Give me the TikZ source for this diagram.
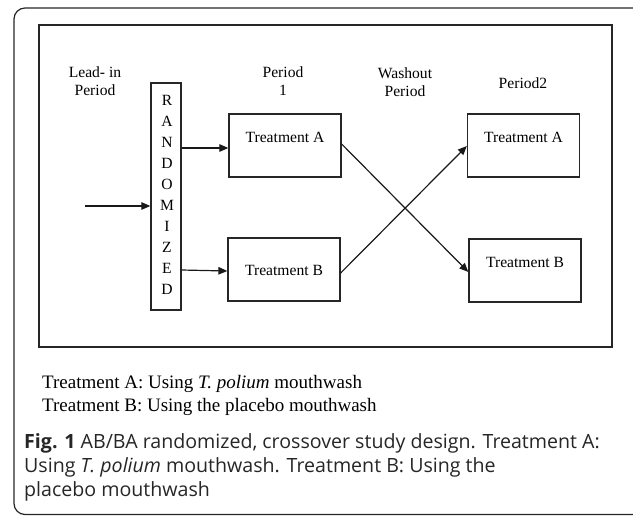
\documentclass[tikz,border=0pt]{standalone}
\usepackage{fontspec}
\setmainfont{Liberation Serif}
\newfontfamily\capfont{Open Sans}
\usetikzlibrary{arrows.meta,calc}
\tikzset{
  box/.style={draw=black!85, line width=1.3pt, minimum width=112pt, minimum height=63pt, inner sep=0pt},
  lbl/.style={font=\fontsize{15.6}{18.5}\selectfont, align=center, inner sep=0pt},
  conn/.style={line width=1.2pt, draw=black!90, -{Triangle[length=9pt,width=7.5pt]}},
  legend/.style={font=\fontsize{19}{23}\selectfont, anchor=base west, inner sep=0pt},
  captxt/.style={font=\capfont\fontsize{19.6}{24}\selectfont, anchor=base west, inner sep=0pt, text=black!85}
}
\begin{document}
\begin{tikzpicture}[x=1pt,y=-1pt]
\useasboundingbox (0,0) rectangle (633,515);
\begin{scope}
\clip (0,0) rectangle (633,515);
\draw[line width=1.2pt, draw=black!85, rounded corners=11pt] (14,8) rectangle (650,514.5);
\end{scope}
\draw[line width=1.6pt, draw=black!85] (39,25) rectangle (612,347);
% headings
\node[lbl] (h1) at (95,81) {Lead- in\\Period};
\node[lbl] (h2) at (283,81) {Period\\1};
\node[lbl] (h3) at (405,82) {Washout\\Period};
\node[lbl] (h4) at (523,83) {Period2};
% randomized box
\node[draw=black!85, line width=1.3pt, minimum width=30pt, minimum height=227pt, inner sep=0pt] (rand) at (166,196.5) {};
\foreach \l [count=\i from 0] in {R,A,N,D,O,M,I,Z,E,D}{
  \node[lbl] (r\i) at (167,{100+21.1*\i}) {\l};
}
% treatment boxes
\node[box] (a1) at (285,145.5) {};
\node[box] (b1) at (284,269.5) {};
\node[box] (a2) at (523.5,145.5) {};
\node[box] (b2) at (525,270.5) {};
\node[lbl] (ta1) at (285,137) {Treatment A};
\node[lbl] (tb1) at (284,270) {Treatment B};
\node[lbl] (ta2) at (523.5,137) {Treatment A};
\node[lbl] (tb2) at (525,262) {Treatment B};
% arrows
\coordinate (start) at (85,206);
\draw[conn] (start) -- (rand.west |- start);
\draw[conn] (rand.east |- 0,148) -- (a1.west |- 0,148);
\draw[conn] (rand.east |- 0,270) -- (b1.west |- 0,271);
\draw[conn] (a1.east |- 0,144) -- (b2.west |- 0,272);
\draw[conn] (b1.east |- 0,273) -- (a2.west |- 0,146);
% legend
\node[legend] (l1) at (42,388) {Treatment A: Using \textit{T. polium} mouthwash};
\node[legend] (l2) at (42,411) {Treatment B: Using the placebo mouthwash};
% caption
\node[captxt] (c1) at (24,448) {\textbf{Fig. 1} AB/BA randomized, crossover study design. Treatment A:};
\node[captxt] (c2) at (24,472) {Using \textit{T. polium} mouthwash. Treatment B: Using the};
\node[captxt] (c3) at (24,496) {placebo mouthwash};
\end{tikzpicture}
\end{document}
